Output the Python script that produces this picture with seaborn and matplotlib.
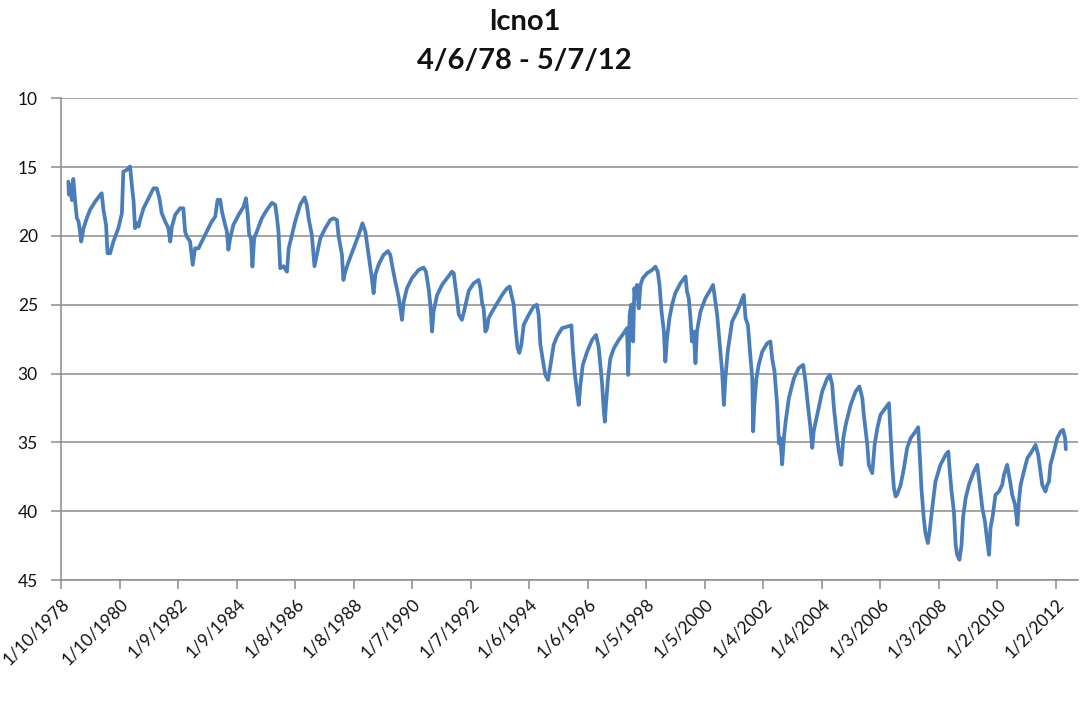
import pandas as pd
import matplotlib
matplotlib.use("Agg")
import matplotlib.pyplot as plt
import seaborn as sns

# Sample times (decimal years) and depth to water readings for well lcno1
years = [
    1978.26, 1978.28, 1978.32, 1978.38, 1978.43, 1978.49, 1978.55, 1978.61, 1978.66, 1978.70,
    1978.78, 1978.89, 1979.00, 1979.18, 1979.35, 1979.40, 1979.46, 1979.55, 1979.60, 1979.69,
    1979.80, 1979.97, 1980.09, 1980.14, 1980.26, 1980.37, 1980.43, 1980.49, 1980.54, 1980.60,
    1980.66, 1980.71, 1980.83, 1981.00, 1981.17, 1981.28, 1981.37, 1981.45, 1981.57, 1981.68,
    1981.74, 1981.80, 1981.91, 1982.08, 1982.19, 1982.25, 1982.31, 1982.42, 1982.51, 1982.59,
    1982.71, 1982.82, 1982.99, 1983.16, 1983.28, 1983.36, 1983.45, 1983.51, 1983.59, 1983.68,
    1983.73, 1983.79, 1983.90, 1984.08, 1984.25, 1984.33, 1984.39, 1984.44, 1984.50, 1984.55,
    1984.61, 1984.70, 1984.87, 1985.04, 1985.215, 1985.33, 1985.39, 1985.44, 1985.50, 1985.61,
    1985.73, 1985.79, 1985.90, 1986.01, 1986.18, 1986.33, 1986.41, 1986.47, 1986.58, 1986.67,
    1986.75, 1986.87, 1987.04, 1987.21, 1987.32, 1987.44, 1987.49, 1987.61, 1987.66, 1987.72,
    1987.84, 1988.01, 1988.18, 1988.31, 1988.41, 1988.52, 1988.63, 1988.69, 1988.75, 1988.86,
    1989.03, 1989.18, 1989.26, 1989.32, 1989.43, 1989.55, 1989.66, 1989.72, 1989.83, 1990.00,
    1990.23, 1990.40, 1990.48, 1990.57, 1990.63, 1990.69, 1990.74, 1990.86, 1991.03, 1991.20,
    1991.37, 1991.43, 1991.48, 1991.54, 1991.60, 1991.71, 1991.825, 1991.94, 1992.11, 1992.28,
    1992.34, 1992.40, 1992.45, 1992.51, 1992.57, 1992.62, 1992.74, 1992.91, 1993.08, 1993.25,
    1993.34, 1993.40, 1993.48, 1993.53, 1993.61, 1993.67, 1993.74, 1993.82, 1993.99, 1994.16,
    1994.27, 1994.33, 1994.39, 1994.50, 1994.56, 1994.65, 1994.70, 1994.77, 1994.845, 1994.96,
    1995.13, 1995.30, 1995.45, 1995.495, 1995.56, 1995.64, 1995.70, 1995.76, 1995.84, 1995.99,
    1996.16, 1996.29, 1996.38, 1996.44, 1996.50, 1996.55, 1996.59, 1996.63, 1996.70, 1996.78,
    1996.90, 1997.07, 1997.24, 1997.35, 1997.39, 1997.41, 1997.44, 1997.49, 1997.52, 1997.56,
    1997.60, 1997.64, 1997.69, 1997.75, 1997.81, 1997.89, 1998.04, 1998.21, 1998.32, 1998.40,
    1998.46, 1998.53, 1998.61, 1998.66, 1998.72, 1998.80, 1998.89, 1999.00, 1999.175, 1999.35,
    1999.40, 1999.46, 1999.52, 1999.57, 1999.63, 1999.69, 1999.74, 1999.86, 2000.03, 2000.20,
    2000.29, 2000.37, 2000.43, 2000.52, 2000.60, 2000.66, 2000.71, 2000.79, 2000.94, 2001.11,
    2001.25, 2001.34, 2001.40, 2001.48, 2001.57, 2001.63, 2001.66, 2001.70, 2001.77, 2001.85,
    2001.97, 2002.14, 2002.25, 2002.31, 2002.39, 2002.48, 2002.54, 2002.59, 2002.65, 2002.71,
    2002.77, 2002.88, 2003.05, 2003.22, 2003.37, 2003.45, 2003.53, 2003.62, 2003.68, 2003.73,
    2003.85, 2004.02, 2004.19, 2004.28, 2004.36, 2004.42, 2004.53, 2004.59, 2004.67, 2004.74,
    2004.82, 2004.99, 2005.16, 2005.29, 2005.39, 2005.44, 2005.56, 2005.61, 2005.73, 2005.81,
    2005.90, 2006.01, 2006.18, 2006.30, 2006.35, 2006.41, 2006.47, 2006.53, 2006.58, 2006.70,
    2006.81, 2006.92, 2007.04, 2007.21, 2007.30, 2007.36, 2007.41, 2007.49, 2007.55, 2007.63,
    2007.69, 2007.78, 2007.89, 2008.06, 2008.24, 2008.33, 2008.37, 2008.44, 2008.52, 2008.58,
    2008.63, 2008.71, 2008.78, 2008.83, 2008.92, 2009.03, 2009.20, 2009.32, 2009.40, 2009.49,
    2009.58, 2009.66, 2009.72, 2009.77, 2009.85, 2009.94, 2010.06, 2010.17, 2010.23, 2010.34,
    2010.40, 2010.46, 2010.51, 2010.61, 2010.69, 2010.74, 2010.80, 2010.91, 2011.03, 2011.18,
    2011.31, 2011.40, 2011.48, 2011.54, 2011.65, 2011.71, 2011.77, 2011.82, 2011.94, 2012.05,
    2012.17, 2012.25, 2012.32, 2012.345,
]

depth = [
    16.05, 17.0, 16.3, 17.4, 15.86, 17.4, 18.7, 18.96, 19.69, 20.41,
    19.44, 18.72, 18.11, 17.5, 17.02, 16.9, 18.1, 19.2, 21.26, 21.26,
    20.41, 19.44, 18.35, 15.33, 15.2, 14.96, 16.3, 17.5, 19.44, 19.08,
    19.32, 18.84, 17.99, 17.26, 16.54, 16.54, 17.26, 18.35, 18.96, 19.44,
    20.41, 19.32, 18.47, 17.99, 17.99, 19.69, 20.05, 20.41, 22.1, 20.9,
    20.9, 20.41, 19.69, 18.96, 18.6, 17.38, 17.38, 18.23, 18.96, 19.69,
    21.0, 20.17, 19.2, 18.47, 17.87, 17.26, 18.47, 19.93, 20.17, 22.23,
    20.17, 19.69, 18.72, 18.11, 17.6, 17.75, 18.72, 19.69, 22.35, 22.2,
    22.6, 20.9, 19.93, 18.96, 17.75, 17.2, 17.75, 18.72, 19.93, 22.2,
    21.4, 20.17, 19.44, 18.84, 18.72, 18.84, 19.93, 21.38, 23.2, 22.6,
    21.86, 20.9, 19.93, 19.08, 19.69, 21.38, 23.07, 24.16, 22.8, 22.1,
    21.38, 21.1, 21.38, 22.1, 23.3, 24.5, 26.1, 24.77, 23.8, 23.07,
    22.47, 22.3, 22.6, 23.8, 25.0, 26.95, 25.5, 24.3, 23.56, 23.07,
    22.6, 22.7, 23.56, 24.5, 25.7, 26.1, 25.1, 24.0, 23.44, 23.2,
    23.8, 24.9, 25.26, 26.95, 26.7, 25.98, 25.5, 24.9, 24.29, 23.8,
    23.68, 24.29, 25.0, 26.46, 28.16, 28.5, 27.9, 26.46, 25.74, 25.13,
    25.0, 25.74, 27.9, 29.37, 30.1, 30.46, 29.85, 28.9, 27.9, 27.3,
    26.7, 26.6, 26.5, 28.16, 29.85, 31.3, 32.28, 30.8, 29.37, 28.4,
    27.55, 27.2, 28.04, 29.37, 30.8, 32.5, 33.5, 32.28, 30.36, 28.9,
    28.16, 27.55, 27.06, 26.7, 30.1, 28.9, 25.74, 25.0, 26.46, 27.67,
    23.8, 24.5, 23.56, 25.26, 23.56, 23.07, 22.7, 22.47, 22.23, 22.6,
    23.56, 25.5, 26.95, 29.13, 27.4, 25.98, 25.0, 24.16, 23.44, 22.95,
    24.04, 24.53, 25.98, 27.67, 26.95, 29.25, 26.95, 25.5, 24.53, 23.92,
    23.56, 24.77, 25.74, 27.9, 29.85, 32.28, 30.36, 28.4, 26.22, 25.5,
    24.77, 24.29, 25.98, 26.46, 28.9, 30.36, 34.2, 32.28, 30.36, 29.37,
    28.4, 27.8, 27.67, 28.9, 29.85, 32.28, 35.06, 34.7, 36.6, 34.7,
    33.5, 31.8, 30.36, 29.6, 29.37, 30.6, 32.28, 33.97, 35.4, 34.2,
    33.0, 31.3, 30.36, 30.1, 30.8, 32.5, 34.7, 35.67, 36.63, 34.7,
    33.74, 32.28, 31.3, 30.94, 31.79, 33.0, 35.18, 36.63, 37.24, 35.18,
    34.0, 33.0, 32.5, 32.16, 34.2, 36.63, 38.33, 38.93, 38.8, 38.09,
    36.9, 35.43, 34.7, 34.2, 33.9, 36.15, 38.33, 40.51, 41.6, 42.32,
    41.48, 39.78, 37.85, 36.63, 35.9, 35.67, 36.88, 38.57, 40.03, 42.45,
    43.17, 43.53, 42.45, 40.5, 39.06, 38.09, 37.12, 36.63, 38.09, 39.78,
    40.75, 42.2, 43.17, 41.23, 40.27, 38.81, 38.57, 38.09, 37.36, 36.63,
    37.36, 38.09, 38.81, 39.54, 40.99, 39.3, 38.09, 37.12, 36.15, 35.67,
    35.18, 35.9, 37.12, 38.09, 38.57, 38.09, 37.85, 36.63, 35.67, 34.7,
    34.2, 34.09, 34.7, 35.5,
]

tick_dates = [
    "1978-01-10", "1980-01-10", "1982-01-09", "1984-01-09", "1986-01-08", "1988-01-08",
    "1990-01-07", "1992-01-07", "1994-01-06", "1996-01-06", "1998-01-05", "2000-01-05",
    "2002-01-04", "2004-01-04", "2006-01-03", "2008-01-03", "2010-01-02", "2012-01-02",
]

depth_ticks = [10, 15, 20, 25, 30, 35, 40, 45]
title_lines = ["lcno1", "4/6/78 - 5/7/12"]


def to_timestamp(y):
    start = pd.Timestamp(int(y), 1, 1)
    end = pd.Timestamp(int(y) + 1, 1, 1)
    return start + (end - start) * (y - int(y))


df = pd.DataFrame({"date": [to_timestamp(y) for y in years], "depth": depth})

sns.set_style("white")
plt.rcParams["font.family"] = ["Lato", "DejaVu Sans"]

grid_color = "#8C8C8C"

fig = plt.figure(figsize=(10.82, 7.05), dpi=100)
ax = fig.add_axes([0.0568, 0.1773, 0.9395, 0.6833])

sns.lineplot(data=df, x="date", y="depth", ax=ax, color="#4A7EBB", linewidth=2.7)

ax.set_ylim(45, 10)
ax.set_yticks(depth_ticks)
ax.yaxis.grid(True, color=grid_color, linewidth=1.1)
ax.xaxis.grid(False)

ticks = pd.to_datetime(tick_dates)
ax.set_xticks(ticks)
ax.set_xticklabels([f"{d.month}/{d.day}/{d.year}" for d in ticks],
                   rotation=45, ha="right", rotation_mode="anchor")
ax.set_xlim(pd.Timestamp("1978-01-10"), pd.Timestamp("2012-10-05"))

for side in ["top", "right"]:
    ax.spines[side].set_visible(False)
for side in ["left", "bottom"]:
    ax.spines[side].set_color(grid_color)
    ax.spines[side].set_linewidth(1.1)

ax.tick_params(axis="x", bottom=True, length=6.5, width=1.1, color=grid_color,
               pad=5, labelsize=12.5, labelcolor="#111111")
ax.tick_params(axis="y", left=True, length=7, width=1.1, color=grid_color,
               pad=10, labelsize=12.5, labelcolor="#111111")
ax.set_xlabel("")
ax.set_ylabel("")

fig.text(0.485, 1 - 22 / 705, title_lines[0], ha="center", va="center",
         fontsize=21, fontweight="bold", color="#111111")
fig.text(0.485, 1 - 61 / 705, title_lines[1], ha="center", va="center",
         fontsize=21, fontweight="bold", color="#111111")

fig.savefig("out.png", dpi=100)
